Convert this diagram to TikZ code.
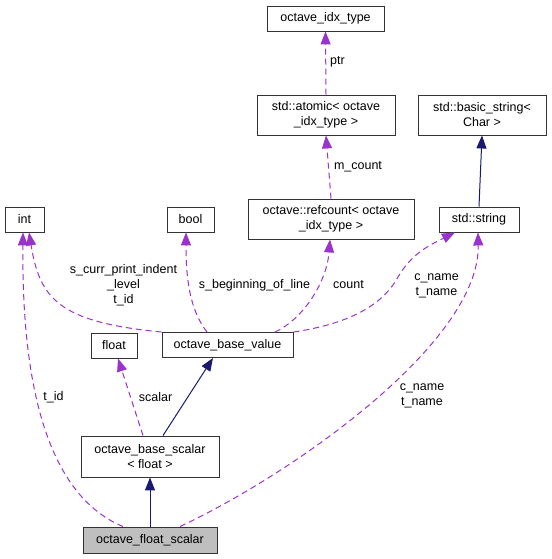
\documentclass[tikz,border=0pt]{standalone}
\usepackage{fontspec}
\setmainfont{Liberation Sans}
\usetikzlibrary{arrows.meta}
\definecolor{depc}{HTML}{9A32CD}
\definecolor{inhc}{HTML}{191970}
\definecolor{selfill}{HTML}{BFBFBF}
\begin{document}
\begin{tikzpicture}[x=1pt,y=-1pt,
  font=\fontsize{12.5}{15}\selectfont,
  box/.style={draw=black!80, line width=0.9pt, align=center, inner sep=0pt, minimum height=25pt},
  dep/.style={draw=depc, line width=1pt, dash pattern=on 6pt off 4pt,
    -{Triangle[length=13pt,width=10pt,fill=depc]}},
  inh/.style={draw=inhc, line width=1pt,
    -{Triangle[length=13pt,width=10pt,fill=inhc]}},
  lbl/.style={align=center, inner sep=0pt, text=black}]
\useasboundingbox (0,0) rectangle (551,559);
% nodes
\node[box, minimum width=117pt] (idx) at (325.5,18.5) {octave\_idx\_type};
\node[box, minimum width=138pt, minimum height=40pt] (atomic) at (326,115) {std::atomic< octave\\\_idx\_type >};
\node[box, minimum width=128pt, minimum height=40pt] (basic) at (482,115) {std::basic\_string<\\Char >};
\node[box, minimum width=166pt, minimum height=40pt] (refcount) at (331,219) {octave::refcount< octave\\\_idx\_type >};
\node[box, minimum width=80pt] (string) at (479,219.5) {std::string};
\node[box, minimum width=39pt] (int) at (24.5,219.5) {int};
\node[box, minimum width=47pt] (bool) at (190.5,219.5) {bool};
\node[box, minimum width=46pt] (float) at (114,345.5) {float};
\node[box, minimum width=131pt] (bv) at (227.5,345) {octave\_base\_value};
\node[box, minimum width=138pt, minimum height=41pt] (bs) at (150,456.5) {octave\_base\_scalar\\< float >};
\node[box, minimum width=134pt, minimum height=26pt, fill=selfill] (fs) at (150,540) {octave\_float\_scalar};
% connectors
\draw[dep] (atomic.north) -- (idx.south);
\draw[dep] (refcount.north) -- (atomic.south);
\draw[inh] (string.north) -- (basic.south);
\draw[dep] ([xshift=-20.5pt]bv.north) .. controls (190,310) and (186,280) .. ([xshift=-4.5pt]bool.south);
\draw[dep] ([xshift=47.5pt]bv.north) .. controls (305,318) and (327,280) .. ([xshift=-1pt]refcount.south);
\draw[dep] (bv.north east) .. controls (340,325) and (380,310) .. (398,277) .. controls (412,253) and (430,245) .. ([xshift=-24pt]string.south);
\draw[dep] (bv.north west) .. controls (60,322) and (40,300) .. ([xshift=4.5pt]int.south);
\draw[dep] ([xshift=-27pt]fs.north) .. controls (35,490) and (22,350) .. ([xshift=-1.5pt]int.south);
\draw[dep] ([xshift=30pt]fs.north) .. controls (300,470) and (480,340) .. ([xshift=-1pt]string.south);
\draw[dep] ([xshift=-7pt]bs.north) -- ([xshift=4pt]float.south);
\draw[inh] ([xshift=13pt]bs.north) -- ([xshift=-14.5pt]bv.south);
\draw[inh] (fs.north) -- (bs.south);
% labels
\node[lbl] (l1) at (337.5,62) {ptr};
\node[lbl] (l2) at (358,167) {m\_count};
\node[lbl] (l3) at (123.5,285.5) {s\_curr\_print\_indent\\\_level\\t\_id};
\node[lbl] (l4) at (254.5,285) {s\_beginning\_of\_line};
\node[lbl] (l5) at (348.5,285) {count};
\node[lbl] (l6) at (436.5,285.5) {c\_name\\t\_name};
\node[lbl] (l7) at (53.5,397) {t\_id};
\node[lbl] (l8) at (155.5,397) {scalar};
\node[lbl] (l9) at (422,396) {c\_name\\t\_name};
\end{tikzpicture}
\end{document}
